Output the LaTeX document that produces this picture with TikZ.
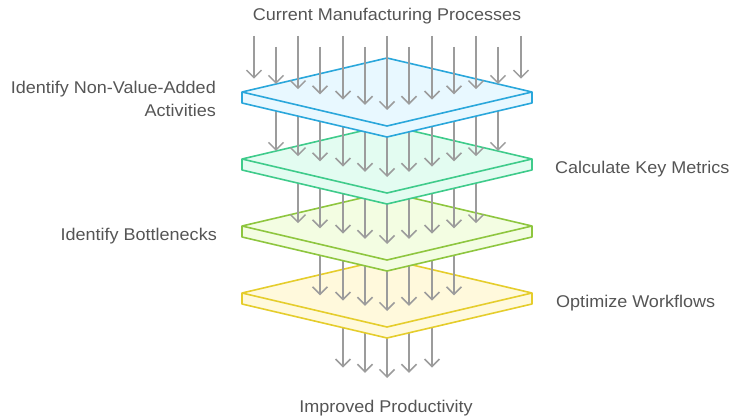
\documentclass[tikz,border=0pt]{standalone}
\usepackage{fontspec}
\setmainfont{Liberation Sans}[FakeStretch=1.06]
\usetikzlibrary{arrows.meta}
\definecolor{arrowgray}{HTML}{9C9C9C}
\definecolor{txt}{HTML}{555555}
\definecolor{blueS}{HTML}{2AA7DB}
\definecolor{blueF}{HTML}{E8F8FF}
\definecolor{greenS}{HTML}{3FCB8B}
\definecolor{greenF}{HTML}{E3FCF1}
\definecolor{limeS}{HTML}{8EC63F}
\definecolor{limeF}{HTML}{F3FDE2}
\definecolor{yelS}{HTML}{E5CD2C}
\definecolor{yelF}{HTML}{FFF9DC}
\newcommand\drawplate[3]{%
  \filldraw[draw=#2, fill=#3, line width=1.6pt, line join=round]
   (242,#1) -- (387,#1-34) -- (532,#1) -- (532,#1+11) -- (387,#1+45) -- (242,#1+11) -- cycle;
  \draw[draw=#2, line width=1.6pt, line join=round] (242,#1) -- (387,#1+34) -- (532,#1);
}
\newcommand\drawflows[2]{%
  \foreach \kk in {-#2,...,#2}{%
    \pgfmathsetmacro\xx{round(387+22.25*\kk)}
    \pgfmathsetmacro\tipy{110+67*#1-5.217*abs(\kk)}
    \pgfmathsetmacro\sty{(#1==0) ? ((mod(abs(\kk),2)==0) ? 36 : 47) : (92+67*(#1-1)+5)}
    \draw[flow] (\xx,\sty) -- (\xx,\tipy);
  }%
}
\begin{document}
\begin{tikzpicture}[x=1pt,y=-1pt,
  flow/.style={draw=arrowgray, line width=1.5pt, -{Straight Barb[length=7.5pt,width=15pt,line width=1.5pt]}},
  lbl/.style={text=txt, font=\fontsize{17}{20}\selectfont, inner sep=0pt}]
\useasboundingbox (0,0) rectangle (733,417);
\drawflows{4}{2}
\drawplate{293}{yelS}{yelF}
\drawflows{3}{3}
\drawplate{226}{limeS}{limeF}
\drawflows{2}{4}
\drawplate{159}{greenS}{greenF}
\drawflows{1}{5}
\drawplate{92}{blueS}{blueF}
\drawflows{0}{6}
\node[lbl, anchor=base] (top) at (387,21) {Current Manufacturing Processes};
\node[lbl, anchor=base] (bot) at (386,412) {Improved Productivity};
\node[lbl, anchor=base east] (l1) at (216,94) {Identify Non-Value-Added};
\node[lbl, anchor=base east] (l1b) at (216,117) {Activities};
\node[lbl, anchor=base west] (r1) at (555,173) {Calculate Key Metrics};
\node[lbl, anchor=base east] (l2) at (217,240) {Identify Bottlenecks};
\node[lbl, anchor=base west] (r2) at (556,307) {Optimize Workflows};
\end{tikzpicture}
\end{document}
